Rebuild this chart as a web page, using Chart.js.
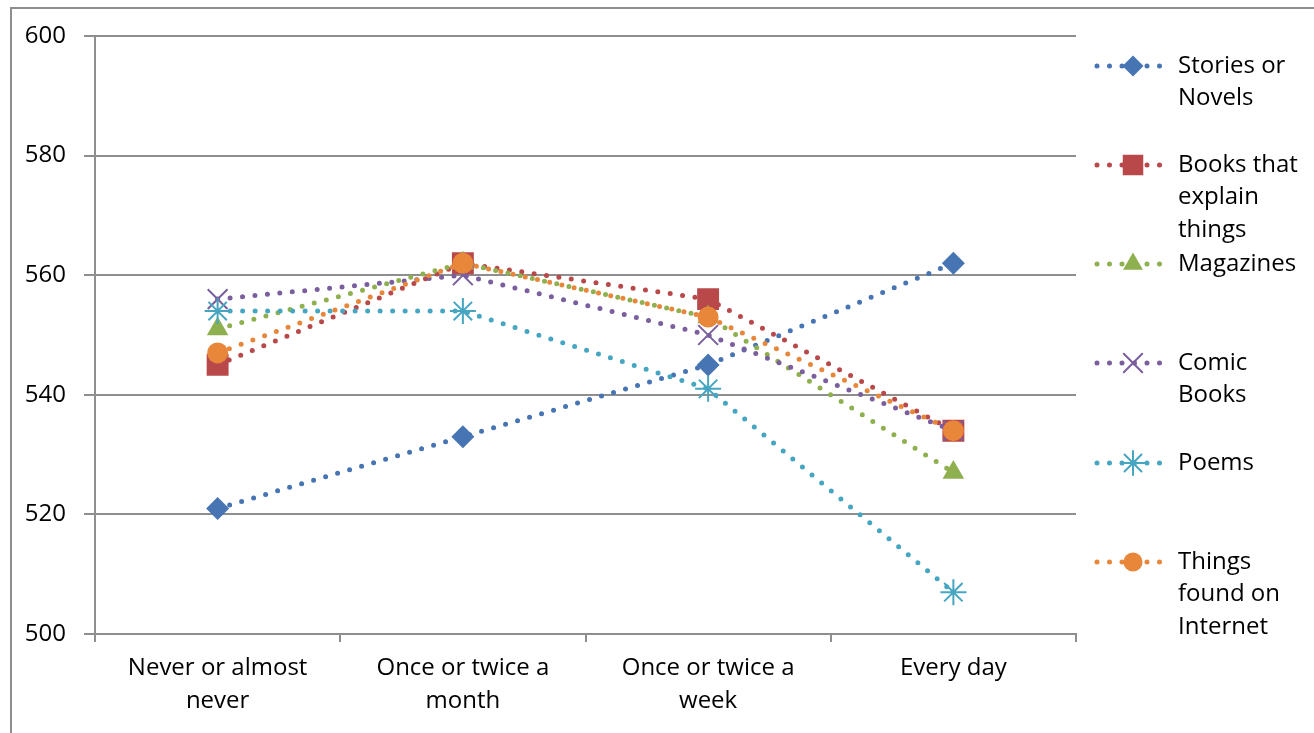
<!DOCTYPE html>
<html>
<head>
<meta charset="utf-8">
<script src="https://cdn.jsdelivr.net/npm/chart.js@4/dist/chart.umd.min.js"></script>
<style>
  html, body { margin: 0; padding: 0; background: #fff; }
</style>
</head>
<body>
<canvas id="readingChart" width="1314" height="733"></canvas>
<script>
// categories (x axis) and y ticks
const categories = [['Never or almost', 'never'], ['Once or twice a', 'month'], ['Once or twice a', 'week'], ['Every day']];
const yTicks = [500, 520, 540, 560, 580, 600];

// series
const seriesNames = ['Stories or Novels', 'Books that explain things', 'Magazines', 'Comic Books', 'Poems', 'Things found on Internet'];
const legendLines = [['Stories or', 'Novels'], ['Books that', 'explain', 'things'], ['Magazines'], ['Comic', 'Books'], ['Poems'], ['Things', 'found on', 'Internet']];
const storiesNovels = [521, 533, 545, 562];
const booksExplain = [545, 562, 556, 534];
const magazines = [551, 562, 553, 527];
const comicBooks = [556, 560, 550, 534];
const poems = [554, 554, 541, 507];
const internetThings = [547, 562, 553, 534];

const FONT = "'Open Sans', sans-serif";
const colors = ['#4774B2', '#B8484A', '#8FB04F', '#7A5E9E', '#46A6C2', '#E8863A'];
const markers = [
    { style: 'rectRot', r: 11.5 },
    { style: 'rect', r: 15.5 },
    { style: 'triangle', r: 12.5 },
    { style: 'crossRot', r: 14 },
    { style: 'star', r: 13 },
    { style: 'circle', r: 10.5 }
];
const allValues = [storiesNovels, booksExplain, magazines, comicBooks, poems, internetThings];

const datasets = allValues.map((vals, i) => ({
    label: seriesNames[i],
    data: vals,
    borderColor: colors[i],
    backgroundColor: colors[i],
    borderWidth: 5,
    borderDash: [0, 12.5],
    borderCapStyle: 'round',
    pointStyle: markers[i].style,
    pointRadius: markers[i].r,
    pointHoverRadius: markers[i].r,
    pointBackgroundColor: colors[i],
    pointBorderColor: colors[i],
    pointBorderWidth: (markers[i].style === 'crossRot' || markers[i].style === 'star') ? 2 : 0,
    tension: 0,
    order: 6 - i // later series on top, like the original
}));

// outer frame of the chart object
const framePlugin = {
    id: 'frame',
    beforeDraw(chart) {
        const c = chart.ctx;
        c.save();
        c.strokeStyle = '#8E8E8E';
        c.lineWidth = 2;
        c.strokeRect(11, 8, 1320, 760);
        c.restore();
    }
};

// right side legend with wrapped labels
const legendYs = [66, 165, 264, 363, 463, 562];
const sideLegend = {
    id: 'sideLegend',
    afterDraw(chart) {
        const c = chart.ctx;
        c.save();
        datasets.forEach((ds, i) => {
            const y = legendYs[i];
            c.beginPath();
            c.strokeStyle = ds.borderColor;
            c.lineWidth = 5;
            c.lineCap = 'round';
            c.setLineDash([0, 12.5]);
            c.moveTo(1097, y);
            c.lineTo(1163, y);
            c.stroke();
            c.setLineDash([]);
            c.fillStyle = ds.backgroundColor;
            c.strokeStyle = ds.borderColor;
            c.lineWidth = ds.pointBorderWidth || 1;
            Chart.helpers.drawPoint(c, { pointStyle: ds.pointStyle, radius: ds.pointRadius - 1, borderWidth: ds.pointBorderWidth }, 1133, y);
            c.fillStyle = '#000';
            c.font = '24px ' + FONT;
            c.textBaseline = 'middle';
            c.textAlign = 'left';
            legendLines[i].forEach((line, k) => c.fillText(line, 1178, y + k * 32.5));
        });
        c.restore();
    }
};

new Chart(document.getElementById('readingChart'), {
    type: 'line',
    data: { labels: categories, datasets: datasets },
    plugins: [framePlugin, sideLegend],
    options: {
        responsive: false,
        animation: false,
        devicePixelRatio: 1,
        layout: { padding: { left: 0, top: 36, right: 238, bottom: 0 } },
        plugins: { legend: { display: false }, tooltip: { enabled: false } },
        scales: {
            x: {
                offset: true,
                grid: { display: true, offset: true, drawOnChartArea: false, tickLength: 8, color: '#8E8E8E', lineWidth: 2 },
                border: { display: true, color: '#8E8E8E', width: 2 },
                ticks: { color: '#000', font: { family: FONT, size: 24, lineHeight: 1.375 }, padding: 10, maxRotation: 0, autoSkip: false },
                afterFit: (scale) => { scale.height = 99; }
            },
            y: {
                min: yTicks[0],
                max: yTicks[yTicks.length - 1],
                afterBuildTicks: (scale) => { scale.ticks = yTicks.map(v => ({ value: v })); },
                grid: { color: '#8E8E8E', lineWidth: 2, tickLength: 11 },
                border: { display: true, color: '#8E8E8E', width: 2 },
                ticks: { color: '#000', font: { family: FONT, size: 24 }, padding: 18 },
                afterFit: (scale) => { scale.width = 95; }
            }
        }
    }
});
</script>
</body>
</html>
